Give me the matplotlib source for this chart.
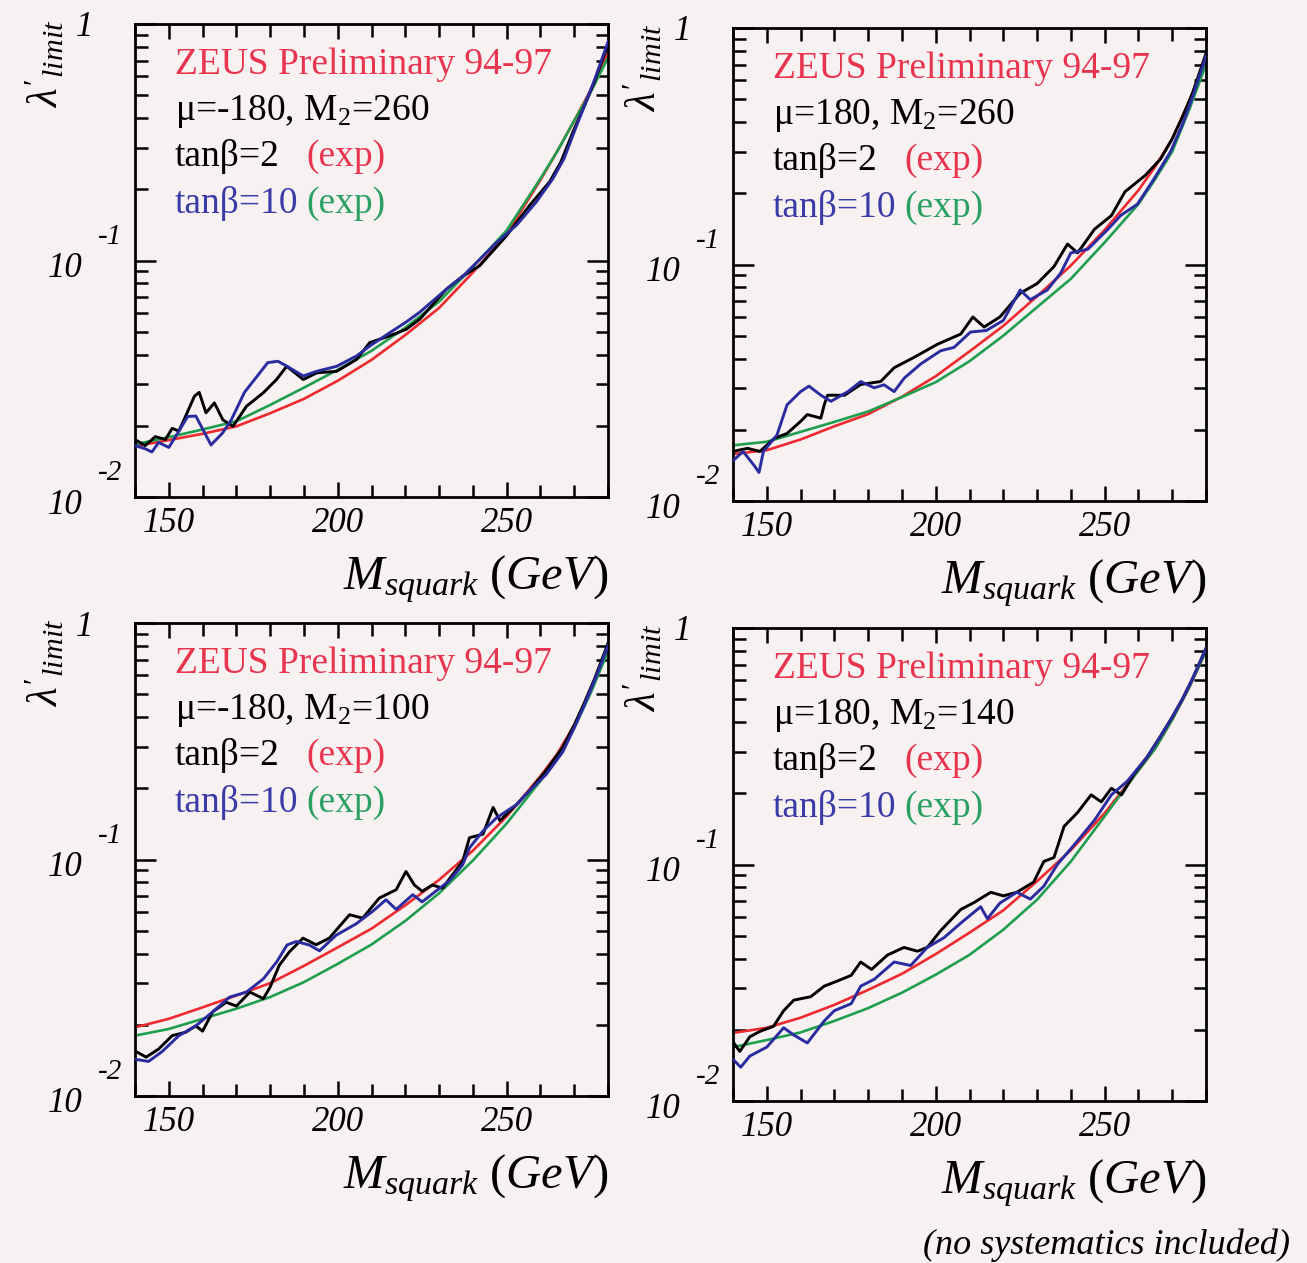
import numpy as np
import matplotlib
matplotlib.use("Agg")
import matplotlib.pyplot as plt
from matplotlib.ticker import FixedLocator, LogLocator, NullFormatter

plt.rcParams['font.family'] = ['Liberation Serif', 'DejaVu Serif']
plt.rcParams['mathtext.fontset'] = 'custom'
plt.rcParams['mathtext.rm'] = 'Liberation Serif'
plt.rcParams['mathtext.it'] = 'Liberation Serif:italic'
plt.rcParams['mathtext.bf'] = 'Liberation Serif:bold'

# ---------------- data ----------------
mu_vals = [-180, 180, -180, 180]
m2_vals = [260, 260, 100, 140]

m_exp = [140, 150, 160, 170, 180, 190, 200, 210, 220, 230, 240, 250, 260, 265, 270, 275, 280]

red_p1 = [0.0164, 0.0174, 0.0185, 0.0199, 0.0226, 0.026, 0.031, 0.038, 0.0484, 0.063, 0.089, 0.129, 0.219, 0.29, 0.39, 0.53, 0.76]
green_p1 = [0.0167, 0.0179, 0.0193, 0.0209, 0.0245, 0.029, 0.0345, 0.0415, 0.052, 0.067, 0.094, 0.134, 0.222, 0.29, 0.39, 0.52, 0.72]
red_p2 = [0.0158, 0.0164, 0.0182, 0.0207, 0.0233, 0.0276, 0.0337, 0.0429, 0.055, 0.0734, 0.099, 0.14, 0.206, 0.26, 0.34, 0.49, 0.74]
green_p2 = [0.0172, 0.0178, 0.0196, 0.0216, 0.0239, 0.0275, 0.0318, 0.039, 0.050, 0.066, 0.087, 0.124, 0.18, 0.23, 0.30, 0.45, 0.70]
red_p3 = [0.0195, 0.0212, 0.0237, 0.0266, 0.030, 0.0355, 0.0425, 0.051, 0.064, 0.082, 0.109, 0.152, 0.225, 0.28, 0.37, 0.52, 0.78]
green_p3 = [0.018, 0.0192, 0.0212, 0.0234, 0.0262, 0.0303, 0.0362, 0.0437, 0.055, 0.072, 0.099, 0.142, 0.215, 0.27, 0.36, 0.51, 0.76]
red_p4 = [0.0194, 0.0204, 0.0225, 0.0255, 0.0295, 0.0345, 0.0418, 0.0515, 0.064, 0.085, 0.115, 0.165, 0.25, 0.31, 0.41, 0.56, 0.80]
green_p4 = [0.0169, 0.0181, 0.0195, 0.0218, 0.0247, 0.0287, 0.0342, 0.0415, 0.053, 0.071, 0.103, 0.16, 0.25, 0.31, 0.41, 0.56, 0.80]

m_black_p1 = [140, 143, 146, 149, 151, 153, 155, 157.6, 159, 161, 163.5, 166, 169, 173, 178, 181.9, 184.9, 189.8, 193.8, 199.7, 205.6, 209.5, 215.4, 220.3, 224.3, 232.2, 237.1, 242, 249.9, 256.8, 262.7, 266, 270, 273, 276, 280]
black_p1 = [0.0175, 0.0165, 0.018, 0.0175, 0.0195, 0.019, 0.022, 0.0267, 0.0277, 0.0227, 0.025, 0.0212, 0.0199, 0.0242, 0.0276, 0.0314, 0.0357, 0.0314, 0.0335, 0.034, 0.0382, 0.045, 0.048, 0.0512, 0.0565, 0.0757, 0.086, 0.095, 0.127, 0.171, 0.215, 0.26, 0.36, 0.45, 0.57, 0.82]
m_blue_p1 = [140, 143, 145, 147, 150, 152, 155.6, 158, 160.6, 162.5, 166, 168.5, 172.4, 175.4, 179.3, 182.3, 185, 189.8, 193.8, 199.7, 205.6, 209.5, 215.4, 220.3, 224.3, 232.2, 237.1, 242, 247, 252.9, 258.8, 263.7, 267, 270, 273, 276, 280]
blue_p1 = [0.0165, 0.016, 0.0155, 0.017, 0.0162, 0.018, 0.0219, 0.022, 0.0187, 0.0166, 0.0187, 0.0212, 0.0277, 0.0314, 0.037, 0.0375, 0.0357, 0.0325, 0.034, 0.0357, 0.0395, 0.0435, 0.0495, 0.055, 0.0605, 0.0757, 0.086, 0.101, 0.119, 0.141, 0.177, 0.222, 0.27, 0.35, 0.45, 0.58, 0.84]

m_black_p2 = [140, 144.3, 148, 152.2, 156, 160, 162, 166, 167, 168, 173, 177.8, 183.7, 187.7, 193.6, 200.5, 207.4, 211, 214.3, 219, 225, 230, 235, 239, 242, 247, 252, 256, 262, 266.6, 270, 273, 276, 280]
black_p2 = [0.0162, 0.0167, 0.0162, 0.0184, 0.0193, 0.0217, 0.0232, 0.0224, 0.0255, 0.028, 0.028, 0.0311, 0.032, 0.0366, 0.0405, 0.046, 0.0508, 0.060, 0.0544, 0.060, 0.0756, 0.083, 0.098, 0.122, 0.112, 0.141, 0.161, 0.203, 0.238, 0.28, 0.34, 0.42, 0.53, 0.78]
m_blue_p2 = [140, 143, 146.3, 147.7, 149, 153, 156, 160, 162.5, 166, 169, 174, 177.8, 181.8, 184.7, 187.7, 190.7, 195.6, 201.5, 205.4, 210.3, 215, 220, 225, 228, 233, 237, 240, 245, 251, 254.7, 259.7, 264.6, 269.5, 273, 276, 280]
blue_p2 = [0.0148, 0.0162, 0.0141, 0.0132, 0.0162, 0.019, 0.0255, 0.029, 0.0306, 0.028, 0.0264, 0.029, 0.032, 0.0301, 0.031, 0.029, 0.0331, 0.038, 0.0432, 0.0446, 0.0518, 0.0526, 0.058, 0.078, 0.071, 0.078, 0.092, 0.112, 0.116, 0.141, 0.161, 0.18, 0.23, 0.30, 0.39, 0.51, 0.76]

m_black_p3 = [140, 143.3, 147, 151, 155, 158, 160, 163, 167, 170, 174, 178, 180, 182.7, 185.7, 189.7, 193.6, 197.5, 203.5, 207.4, 212.3, 217.3, 220.2, 222.7, 225, 228, 231, 234, 237, 239, 243, 246, 248, 253, 256.7, 261.6, 266.6, 270, 273, 276, 280]
black_p3 = [0.0155, 0.0146, 0.0158, 0.018, 0.0186, 0.0198, 0.0188, 0.0227, 0.0249, 0.024, 0.0275, 0.0258, 0.0289, 0.0357, 0.0407, 0.0465, 0.0436, 0.0465, 0.0584, 0.0565, 0.0687, 0.0745, 0.089, 0.078, 0.0734, 0.078, 0.0757, 0.0862, 0.0985, 0.1236, 0.128, 0.166, 0.146, 0.171, 0.195, 0.237, 0.298, 0.37, 0.46, 0.58, 0.82]
m_blue_p3 = [140, 144, 148, 153, 158, 163, 168, 173, 178, 182, 185, 187.7, 191.6, 194.6, 199.5, 205.4, 210.3, 214.3, 217.3, 222.2, 225, 229, 233, 237, 239, 243, 247, 253, 256.7, 261.6, 266.6, 270, 273, 276, 280]
blue_p3 = [0.0143, 0.014, 0.0154, 0.018, 0.0198, 0.0227, 0.0262, 0.0275, 0.0313, 0.037, 0.0435, 0.045, 0.0435, 0.0411, 0.0478, 0.0534, 0.0603, 0.0676, 0.0615, 0.071, 0.0662, 0.0734, 0.0812, 0.095, 0.112, 0.132, 0.15, 0.171, 0.195, 0.228, 0.285, 0.36, 0.45, 0.57, 0.80]

m_black_p4 = [140, 142, 145, 148, 152, 155, 158, 163, 167, 171, 175, 177.8, 181, 185.7, 190.6, 194.6, 197.5, 201.5, 207.4, 211.3, 216.3, 220, 224, 229, 232, 235, 238, 242, 246, 249, 252, 255, 258.7, 262.6, 266.6, 270, 273, 276, 280]
black_p4 = [0.0178, 0.0162, 0.0187, 0.0197, 0.0207, 0.0241, 0.0267, 0.0276, 0.0306, 0.0322, 0.034, 0.0387, 0.036, 0.0414, 0.0446, 0.043, 0.0446, 0.0526, 0.0645, 0.069, 0.0763, 0.0737, 0.0763, 0.0843, 0.103, 0.107, 0.145, 0.166, 0.197, 0.184, 0.21, 0.197, 0.241, 0.285, 0.35, 0.42, 0.50, 0.61, 0.82]
m_blue_p4 = [140, 142.3, 145, 150, 155, 158, 162, 167, 170, 175, 177.8, 181.8, 187.7, 192.6, 197.5, 202.5, 207.4, 213.3, 215.3, 219, 224, 228, 232, 236, 242, 247, 252, 256.7, 262.6, 266.6, 270, 273, 276, 280]
blue_p4 = [0.015, 0.0139, 0.0155, 0.0169, 0.0204, 0.019, 0.0176, 0.0218, 0.0241, 0.0258, 0.0306, 0.0327, 0.0387, 0.0374, 0.0446, 0.0491, 0.0565, 0.0663, 0.059, 0.0687, 0.0763, 0.0714, 0.081, 0.10, 0.126, 0.154, 0.197, 0.225, 0.285, 0.35, 0.42, 0.50, 0.61, 0.82]

x_ticks = [150, 200, 250]
x_tick_labels = ['150', '200', '250']

panels = [
    dict(red=red_p1, green=green_p1, mb=m_black_p1, b=black_p1, mu=m_blue_p1, u=blue_p1),
    dict(red=red_p2, green=green_p2, mb=m_black_p2, b=black_p2, mu=m_blue_p2, u=blue_p2),
    dict(red=red_p3, green=green_p3, mb=m_black_p3, b=black_p3, mu=m_blue_p3, u=blue_p3),
    dict(red=red_p4, green=green_p4, mb=m_black_p4, b=black_p4, mu=m_blue_p4, u=blue_p4),
]

# ---------------- layout ----------------
W, H = 1307, 1263
bg = '#f7f1f1'
fig = plt.figure(figsize=(W / 100, H / 100), dpi=100)
fig.patch.set_facecolor(bg)

rects_px = [(135, 24, 608, 497), (733, 28, 1206, 501),
            (135, 623, 608, 1096), (733, 628, 1206, 1101)]

c_red_line = '#ee2a2e'
c_green_line = '#1f9e50'
c_blue_line = '#2b2ba0'
c_red_txt = '#e8344f'
c_blue_txt = '#3a3aa8'
c_green_txt = '#2aa062'

PX = 0.72  # px -> pt

for i, (l, t, r, b) in enumerate(rects_px):
    ax = fig.add_axes([l / W, 1 - b / H, (r - l) / W, (b - t) / H])
    ax.set_facecolor(bg)
    p = panels[i]
    ax.plot(m_exp, p['red'], color=c_red_line, lw=1.9, zorder=2)
    ax.plot(m_exp, p['green'], color=c_green_line, lw=1.9, zorder=2)
    ax.plot(p['mb'], p['b'], color='black', lw=2.1, zorder=3)
    ax.plot(p['mu'], p['u'], color=c_blue_line, lw=2.1, zorder=4)

    ax.set_yscale('log')
    ax.set_xlim(140, 280)
    ax.set_ylim(0.01, 1)
    for s in ax.spines.values():
        s.set_linewidth(2.0)

    ax.xaxis.set_major_locator(FixedLocator(x_ticks))
    ax.set_xticklabels(x_tick_labels, fontsize=25, style='italic')
    ax.xaxis.set_minor_locator(FixedLocator([m for m in range(140, 281, 10) if m not in x_ticks]))
    ax.yaxis.set_major_locator(LogLocator(base=10, numticks=5))
    ax.yaxis.set_minor_locator(LogLocator(base=10, subs=np.arange(2, 10), numticks=20))
    ax.yaxis.set_major_formatter(NullFormatter())
    ax.yaxis.set_minor_formatter(NullFormatter())
    ax.tick_params(axis='both', which='both', direction='in', top=True, right=True, width=1.8)
    ax.tick_params(axis='x', which='major', length=11, pad=7)
    ax.tick_params(axis='x', which='minor', length=9)
    ax.tick_params(axis='y', which='major', length=15)
    ax.tick_params(axis='y', which='minor', length=9)

    # y tick labels (manual, ROOT style)
    for val, ex in [(0.1, '-1'), (0.01, '-2')]:
        ax.annotate('10', xy=(0, val), xycoords=('axes fraction', 'data'),
                    xytext=(-52 * PX, -8 * PX), textcoords='offset points',
                    ha='right', va='center', fontsize=25, style='italic')
        ax.annotate(ex, xy=(0, val), xycoords=('axes fraction', 'data'),
                    xytext=(-37 * PX, 24 * PX), textcoords='offset points',
                    ha='left', va='center', fontsize=21, style='italic')
    ax.annotate('1', xy=(0, 1), xycoords=('axes fraction', 'data'),
                xytext=(-42 * PX, -4 * PX), textcoords='offset points',
                ha='right', va='center', fontsize=25, style='italic')

    # y axis title
    ax.annotate(r"$\lambda'_{limit}$", xy=(0, 1), xycoords='axes fraction',
                xytext=(-68 * PX, 4 * PX), textcoords='offset points',
                ha='right', va='top', rotation=90, fontsize=31)

    # x axis title
    ax.text(1.0, -92 / 473, r"$M_{squark}\ (GeV)$", transform=ax.transAxes,
            ha='right', va='baseline', fontsize=35)

    # in-plot texts
    x0 = 40 / 473
    ax.text(x0, 0.894, 'ZEUS Preliminary 94-97', transform=ax.transAxes,
            color=c_red_txt, fontsize=27, va='baseline', ha='left')
    ax.text(x0, 0.797, f'μ={mu_vals[i]}, M$_2$={m2_vals[i]}', transform=ax.transAxes,
            color='black', fontsize=27, va='baseline', ha='left')
    ax.text(x0, 0.700, 'tanβ=2', transform=ax.transAxes,
            color='black', fontsize=27, va='baseline', ha='left')
    ax.text(0.3615, 0.700, '(exp)', transform=ax.transAxes,
            color=c_red_txt, fontsize=27, va='baseline', ha='left')
    ax.text(x0, 0.600, 'tanβ=10', transform=ax.transAxes,
            color=c_blue_txt, fontsize=27, va='baseline', ha='left')
    ax.text(0.3615, 0.600, '(exp)', transform=ax.transAxes,
            color=c_green_txt, fontsize=27, va='baseline', ha='left')

fig.text(1290 / W, 1 - 1245 / H, '(no systematics included)', ha='right', va='center',
         fontsize=26, style='italic')

fig.savefig('out.png', dpi=100, facecolor=bg)
